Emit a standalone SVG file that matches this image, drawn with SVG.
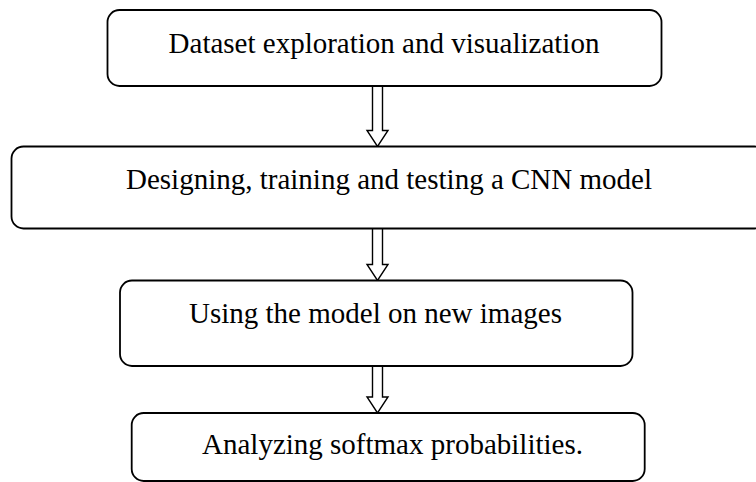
<svg xmlns="http://www.w3.org/2000/svg" width="756" height="482" viewBox="0 0 756 482">
  <style>
    .box { fill: #ffffff; stroke: #000000; stroke-width: 1.8; }
    .label { font-family: "Liberation Serif", "Times New Roman", serif; font-size: 29px; fill: #000000; text-anchor: middle; }
    .arrow { fill: #ffffff; stroke: #000000; stroke-width: 1.4; stroke-linejoin: miter; }
  </style>
  <rect width="756" height="482" fill="#ffffff"/>

  <g id="connectors">
    <polyline class="arrow" points="372.5,86 372.5,130.5 367,130.5 377.5,146.5 388,130.5 382.5,130.5 382.5,86"/>
    <polyline class="arrow" points="372.5,228.5 372.5,264.5 367,264.5 377.5,280.5 388,264.5 382.5,264.5 382.5,228.5"/>
    <polyline class="arrow" points="372.5,366 372.5,397 367,397 377.5,413 388,397 382.5,397 382.5,366"/>
  </g>

  <g id="node-exploration">
    <rect class="box" x="107.5" y="10" width="554" height="76" rx="12" ry="12"/>
    <text class="label" x="384" y="52.5">Dataset exploration and visualization</text>
  </g>

  <g id="node-cnn">
    <rect class="box" x="11.5" y="146.5" width="755" height="82" rx="12" ry="12"/>
    <text class="label" x="389" y="188.5">Designing, training and testing a CNN model</text>
  </g>

  <g id="node-new-images">
    <rect class="box" x="120" y="280.5" width="512.5" height="85.5" rx="12" ry="12"/>
    <text class="label" x="375.5" y="322.5">Using the model on new images</text>
  </g>

  <g id="node-softmax">
    <rect class="box" x="131.7" y="413" width="513" height="68" rx="12" ry="12"/>
    <text class="label" x="392.5" y="454">Analyzing softmax probabilities.</text>
  </g>
</svg>
